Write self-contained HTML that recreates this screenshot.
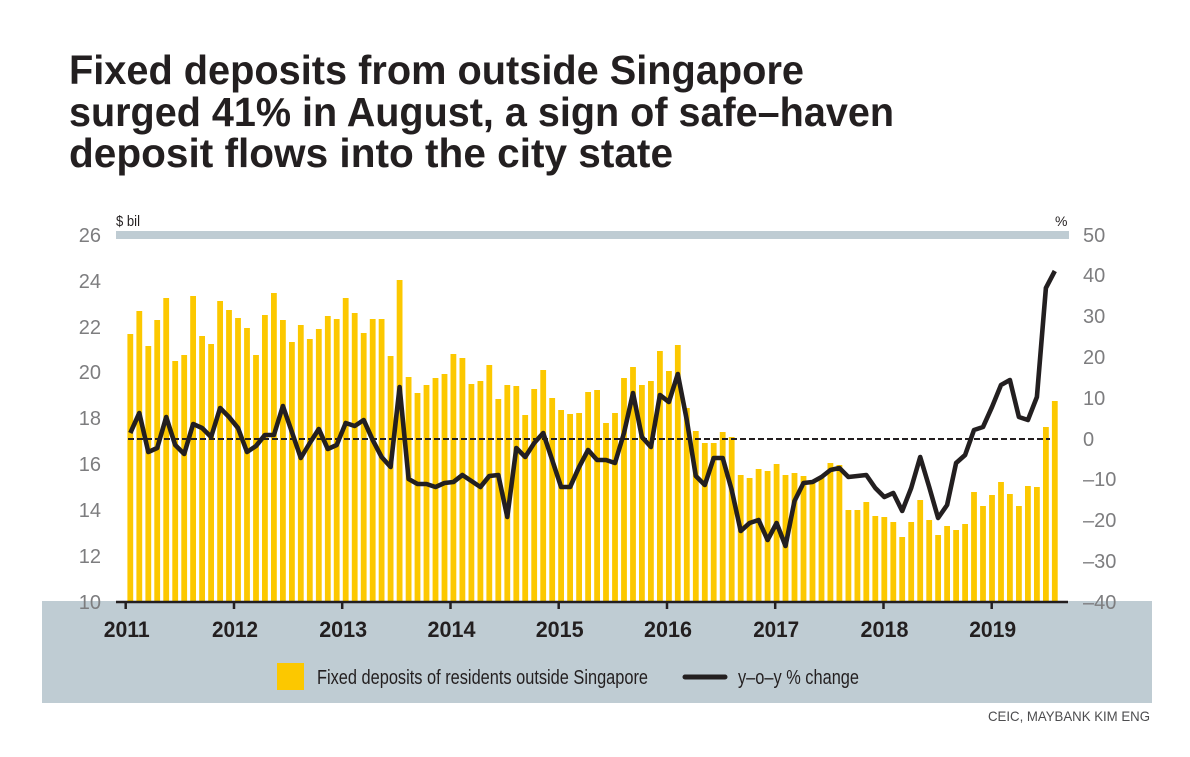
<!DOCTYPE html>
<html>
<head>
<meta charset="utf-8">
<style>
html,body{margin:0;padding:0;background:#fff;}
svg{display:block;}
text{font-family:"Liberation Sans",sans-serif;}
</style>
</head>
<body>
<svg width="1190" height="757" viewBox="0 0 1190 757" xmlns="http://www.w3.org/2000/svg">
<rect x="0" y="0" width="1190" height="757" fill="#ffffff"/>
<!-- Title -->
<g fill="#231f20" font-weight="bold" font-size="41">
<text x="69" y="84" textLength="735" lengthAdjust="spacingAndGlyphs">Fixed deposits from outside Singapore</text>
<text x="69" y="126" textLength="825" lengthAdjust="spacingAndGlyphs">surged 41% in August, a sign of safe–haven</text>
<text x="69" y="167" textLength="604" lengthAdjust="spacingAndGlyphs">deposit flows into the city state</text>
</g>

<!-- unit labels -->
<text x="116" y="226" font-size="15" fill="#231f20" textLength="24" lengthAdjust="spacingAndGlyphs">$ bil</text>
<text x="1055" y="226" font-size="14" fill="#231f20">%</text>

<!-- top gray bar -->
<rect x="116" y="231" width="953" height="8" fill="#bfccd3"/>

<!-- bottom gray band -->
<rect x="42" y="601" width="1110" height="102" fill="#bfccd3"/>

<!-- left axis labels -->
<g fill="#7d7d7f" font-size="20" text-anchor="end">
<text x="101" y="242">26</text>
<text x="101" y="288">24</text>
<text x="101" y="334">22</text>
<text x="101" y="379">20</text>
<text x="101" y="425">18</text>
<text x="101" y="471">16</text>
<text x="101" y="517">14</text>
<text x="101" y="563">12</text>
<text x="101" y="609">10</text>
</g>

<!-- right axis labels -->
<g fill="#7d7d7f" font-size="20">
<text x="1083" y="242">50</text>
<text x="1083" y="282">40</text>
<text x="1083" y="323">30</text>
<text x="1083" y="364">20</text>
<text x="1083" y="405">10</text>
<text x="1083" y="446">0</text>
<text x="1083" y="486">–10</text>
<text x="1083" y="527">–20</text>
<text x="1083" y="568">–30</text>
<text x="1083" y="609">–40</text>
</g>

<!-- bars -->
<g fill="#fcc800">
<rect x="127.4" y="334" width="5.8" height="268"/>
<rect x="136.4" y="311" width="5.8" height="291"/>
<rect x="145.4" y="346" width="5.8" height="256"/>
<rect x="154.3" y="320" width="5.8" height="282"/>
<rect x="163.3" y="298" width="5.8" height="304"/>
<rect x="172.3" y="361" width="5.8" height="241"/>
<rect x="181.3" y="355" width="5.8" height="247"/>
<rect x="190.2" y="296" width="5.8" height="306"/>
<rect x="199.2" y="336" width="5.8" height="266"/>
<rect x="208.2" y="344" width="5.8" height="258"/>
<rect x="217.2" y="301" width="5.8" height="301"/>
<rect x="226.1" y="310" width="5.8" height="292"/>
<rect x="235.1" y="318" width="5.8" height="284"/>
<rect x="244.1" y="328" width="5.8" height="274"/>
<rect x="253.1" y="355" width="5.8" height="247"/>
<rect x="262.0" y="315" width="5.8" height="287"/>
<rect x="271.0" y="293" width="5.8" height="309"/>
<rect x="280.0" y="320" width="5.8" height="282"/>
<rect x="289.0" y="342" width="5.8" height="260"/>
<rect x="297.9" y="325" width="5.8" height="277"/>
<rect x="306.9" y="339" width="5.8" height="263"/>
<rect x="315.9" y="329" width="5.8" height="273"/>
<rect x="324.9" y="316" width="5.8" height="286"/>
<rect x="333.8" y="319" width="5.8" height="283"/>
<rect x="342.8" y="298" width="5.8" height="304"/>
<rect x="351.8" y="313" width="5.8" height="289"/>
<rect x="360.8" y="333" width="5.8" height="269"/>
<rect x="369.8" y="319" width="5.8" height="283"/>
<rect x="378.7" y="319" width="5.8" height="283"/>
<rect x="387.7" y="356" width="5.8" height="246"/>
<rect x="396.7" y="280" width="5.8" height="322"/>
<rect x="405.7" y="377" width="5.8" height="225"/>
<rect x="414.6" y="393" width="5.8" height="209"/>
<rect x="423.6" y="385" width="5.8" height="217"/>
<rect x="432.6" y="378" width="5.8" height="224"/>
<rect x="441.6" y="374" width="5.8" height="228"/>
<rect x="450.5" y="354" width="5.8" height="248"/>
<rect x="459.5" y="358" width="5.8" height="244"/>
<rect x="468.5" y="384" width="5.8" height="218"/>
<rect x="477.5" y="381" width="5.8" height="221"/>
<rect x="486.4" y="365" width="5.8" height="237"/>
<rect x="495.4" y="399" width="5.8" height="203"/>
<rect x="504.4" y="385" width="5.8" height="217"/>
<rect x="513.4" y="386" width="5.8" height="216"/>
<rect x="522.3" y="415" width="5.8" height="187"/>
<rect x="531.3" y="389" width="5.8" height="213"/>
<rect x="540.3" y="370" width="5.8" height="232"/>
<rect x="549.3" y="398" width="5.8" height="204"/>
<rect x="558.2" y="410" width="5.8" height="192"/>
<rect x="567.2" y="414" width="5.8" height="188"/>
<rect x="576.2" y="413" width="5.8" height="189"/>
<rect x="585.2" y="392" width="5.8" height="210"/>
<rect x="594.2" y="390" width="5.8" height="212"/>
<rect x="603.1" y="423" width="5.8" height="179"/>
<rect x="612.1" y="413" width="5.8" height="189"/>
<rect x="621.1" y="378" width="5.8" height="224"/>
<rect x="630.1" y="367" width="5.8" height="235"/>
<rect x="639.0" y="385" width="5.8" height="217"/>
<rect x="648.0" y="381" width="5.8" height="221"/>
<rect x="657.0" y="351" width="5.8" height="251"/>
<rect x="666.0" y="371" width="5.8" height="231"/>
<rect x="674.9" y="345" width="5.8" height="257"/>
<rect x="683.9" y="408" width="5.8" height="194"/>
<rect x="692.9" y="431" width="5.8" height="171"/>
<rect x="701.9" y="443" width="5.8" height="159"/>
<rect x="710.8" y="443" width="5.8" height="159"/>
<rect x="719.8" y="432" width="5.8" height="170"/>
<rect x="728.8" y="437" width="5.8" height="165"/>
<rect x="737.8" y="475" width="5.8" height="127"/>
<rect x="746.7" y="478" width="5.8" height="124"/>
<rect x="755.7" y="469" width="5.8" height="133"/>
<rect x="764.7" y="471" width="5.8" height="131"/>
<rect x="773.7" y="464" width="5.8" height="138"/>
<rect x="782.6" y="475" width="5.8" height="127"/>
<rect x="791.6" y="473" width="5.8" height="129"/>
<rect x="800.6" y="476" width="5.8" height="126"/>
<rect x="809.6" y="480" width="5.8" height="122"/>
<rect x="818.6" y="477" width="5.8" height="125"/>
<rect x="827.5" y="463" width="5.8" height="139"/>
<rect x="836.5" y="465" width="5.8" height="137"/>
<rect x="845.5" y="510" width="5.8" height="92"/>
<rect x="854.5" y="510" width="5.8" height="92"/>
<rect x="863.4" y="502" width="5.8" height="100"/>
<rect x="872.4" y="516" width="5.8" height="86"/>
<rect x="881.4" y="517" width="5.8" height="85"/>
<rect x="890.4" y="522" width="5.8" height="80"/>
<rect x="899.3" y="537" width="5.8" height="65"/>
<rect x="908.3" y="522" width="5.8" height="80"/>
<rect x="917.3" y="500" width="5.8" height="102"/>
<rect x="926.3" y="520" width="5.8" height="82"/>
<rect x="935.2" y="535" width="5.8" height="67"/>
<rect x="944.2" y="526" width="5.8" height="76"/>
<rect x="953.2" y="530" width="5.8" height="72"/>
<rect x="962.2" y="524" width="5.8" height="78"/>
<rect x="971.1" y="492" width="5.8" height="110"/>
<rect x="980.1" y="506" width="5.8" height="96"/>
<rect x="989.1" y="495" width="5.8" height="107"/>
<rect x="998.1" y="482" width="5.8" height="120"/>
<rect x="1007.0" y="494" width="5.8" height="108"/>
<rect x="1016.0" y="506" width="5.8" height="96"/>
<rect x="1025.0" y="486" width="5.8" height="116"/>
<rect x="1034.0" y="487" width="5.8" height="115"/>
<rect x="1043.0" y="427" width="5.8" height="175"/>
<rect x="1051.9" y="401" width="5.8" height="201"/>
</g>

<!-- zero dashed line -->
<line x1="128" y1="439" x2="1050" y2="439" stroke="#231f20" stroke-width="2" stroke-dasharray="6 3"/>

<!-- y-o-y line -->
<polyline fill="none" stroke="#231f20" stroke-width="4.6" stroke-linejoin="round" stroke-linecap="butt" points="130.3,433 139.3,413 148.3,452 157.2,448 166.2,417 175.2,445 184.2,454 193.1,424 202.1,428 211.1,437 220.1,408 229.0,417 238.0,428 247.0,452 256.0,446 264.9,435 273.9,435 282.9,406 291.9,432 300.8,458 309.8,443 318.8,429 327.8,449 336.7,445 345.7,423 354.7,426 363.7,420 372.7,440 381.6,457 390.6,467 399.6,387 408.6,479 417.5,484 426.5,484 435.5,487 444.5,483 453.4,482 462.4,475 471.4,481 480.4,487 489.3,476 498.3,475 507.3,517 516.3,448 525.2,457 534.2,443 543.2,433 552.2,460 561.1,487 570.1,487 579.1,467 588.1,450 597.1,460 606.0,460 615.0,463 624.0,433 633.0,393 641.9,437 650.9,447 659.9,395 668.9,402 677.8,374 686.8,420 695.8,476 704.8,485 713.7,458 722.7,458 731.7,490 740.7,531 749.6,523 758.6,520 767.6,540 776.6,523 785.5,546 794.5,501 803.5,483 812.5,482 821.5,477 830.4,470 839.4,468 848.4,477 857.4,476 866.3,475 875.3,488 884.3,497 893.3,493 902.2,511 911.2,488 920.2,457 929.2,487 938.1,518 947.1,505 956.1,463 965.1,455 974.0,430 983.0,427 992.0,407 1001.0,385 1009.9,380 1018.9,417 1027.9,420 1036.9,397 1045.9,288 1054.8,271"/>

<!-- x axis -->
<line x1="116" y1="602" x2="1068" y2="602" stroke="#231f20" stroke-width="2.5"/>
<g stroke="#231f20" stroke-width="2.5">
<line x1="125.7" y1="601" x2="125.7" y2="609"/>
<line x1="234.0" y1="601" x2="234.0" y2="609"/>
<line x1="342.2" y1="601" x2="342.2" y2="609"/>
<line x1="450.5" y1="601" x2="450.5" y2="609"/>
<line x1="558.7" y1="601" x2="558.7" y2="609"/>
<line x1="667.0" y1="601" x2="667.0" y2="609"/>
<line x1="775.2" y1="601" x2="775.2" y2="609"/>
<line x1="883.5" y1="601" x2="883.5" y2="609"/>
<line x1="991.7" y1="601" x2="991.7" y2="609"/>
</g>
<g fill="#231f20" font-weight="bold" font-size="22" text-anchor="middle">
<text x="126.7" y="637" textLength="46" lengthAdjust="spacingAndGlyphs">2011</text>
<text x="235.0" y="637" textLength="46" lengthAdjust="spacingAndGlyphs">2012</text>
<text x="343.2" y="637" textLength="48" lengthAdjust="spacingAndGlyphs">2013</text>
<text x="451.5" y="637" textLength="48" lengthAdjust="spacingAndGlyphs">2014</text>
<text x="559.7" y="637" textLength="48" lengthAdjust="spacingAndGlyphs">2015</text>
<text x="668.0" y="637" textLength="48" lengthAdjust="spacingAndGlyphs">2016</text>
<text x="776.2" y="637" textLength="46" lengthAdjust="spacingAndGlyphs">2017</text>
<text x="884.5" y="637" textLength="48" lengthAdjust="spacingAndGlyphs">2018</text>
<text x="992.7" y="637" textLength="47" lengthAdjust="spacingAndGlyphs">2019</text>
</g>

<!-- legend -->
<rect x="277" y="663" width="27" height="27" fill="#fcc800"/>
<text x="317" y="684" font-size="20" fill="#231f20" textLength="331" lengthAdjust="spacingAndGlyphs">Fixed deposits of residents outside Singapore</text>
<line x1="685" y1="677" x2="725" y2="677" stroke="#231f20" stroke-width="5" stroke-linecap="round"/>
<text x="738" y="684" font-size="20" fill="#231f20" textLength="121" lengthAdjust="spacingAndGlyphs">y–o–y % change</text>

<!-- source -->
<text x="1150" y="721" font-size="14" fill="#4d4d4f" text-anchor="end" textLength="162" lengthAdjust="spacingAndGlyphs">CEIC, MAYBANK KIM ENG</text>
</svg>
</body>
</html>
